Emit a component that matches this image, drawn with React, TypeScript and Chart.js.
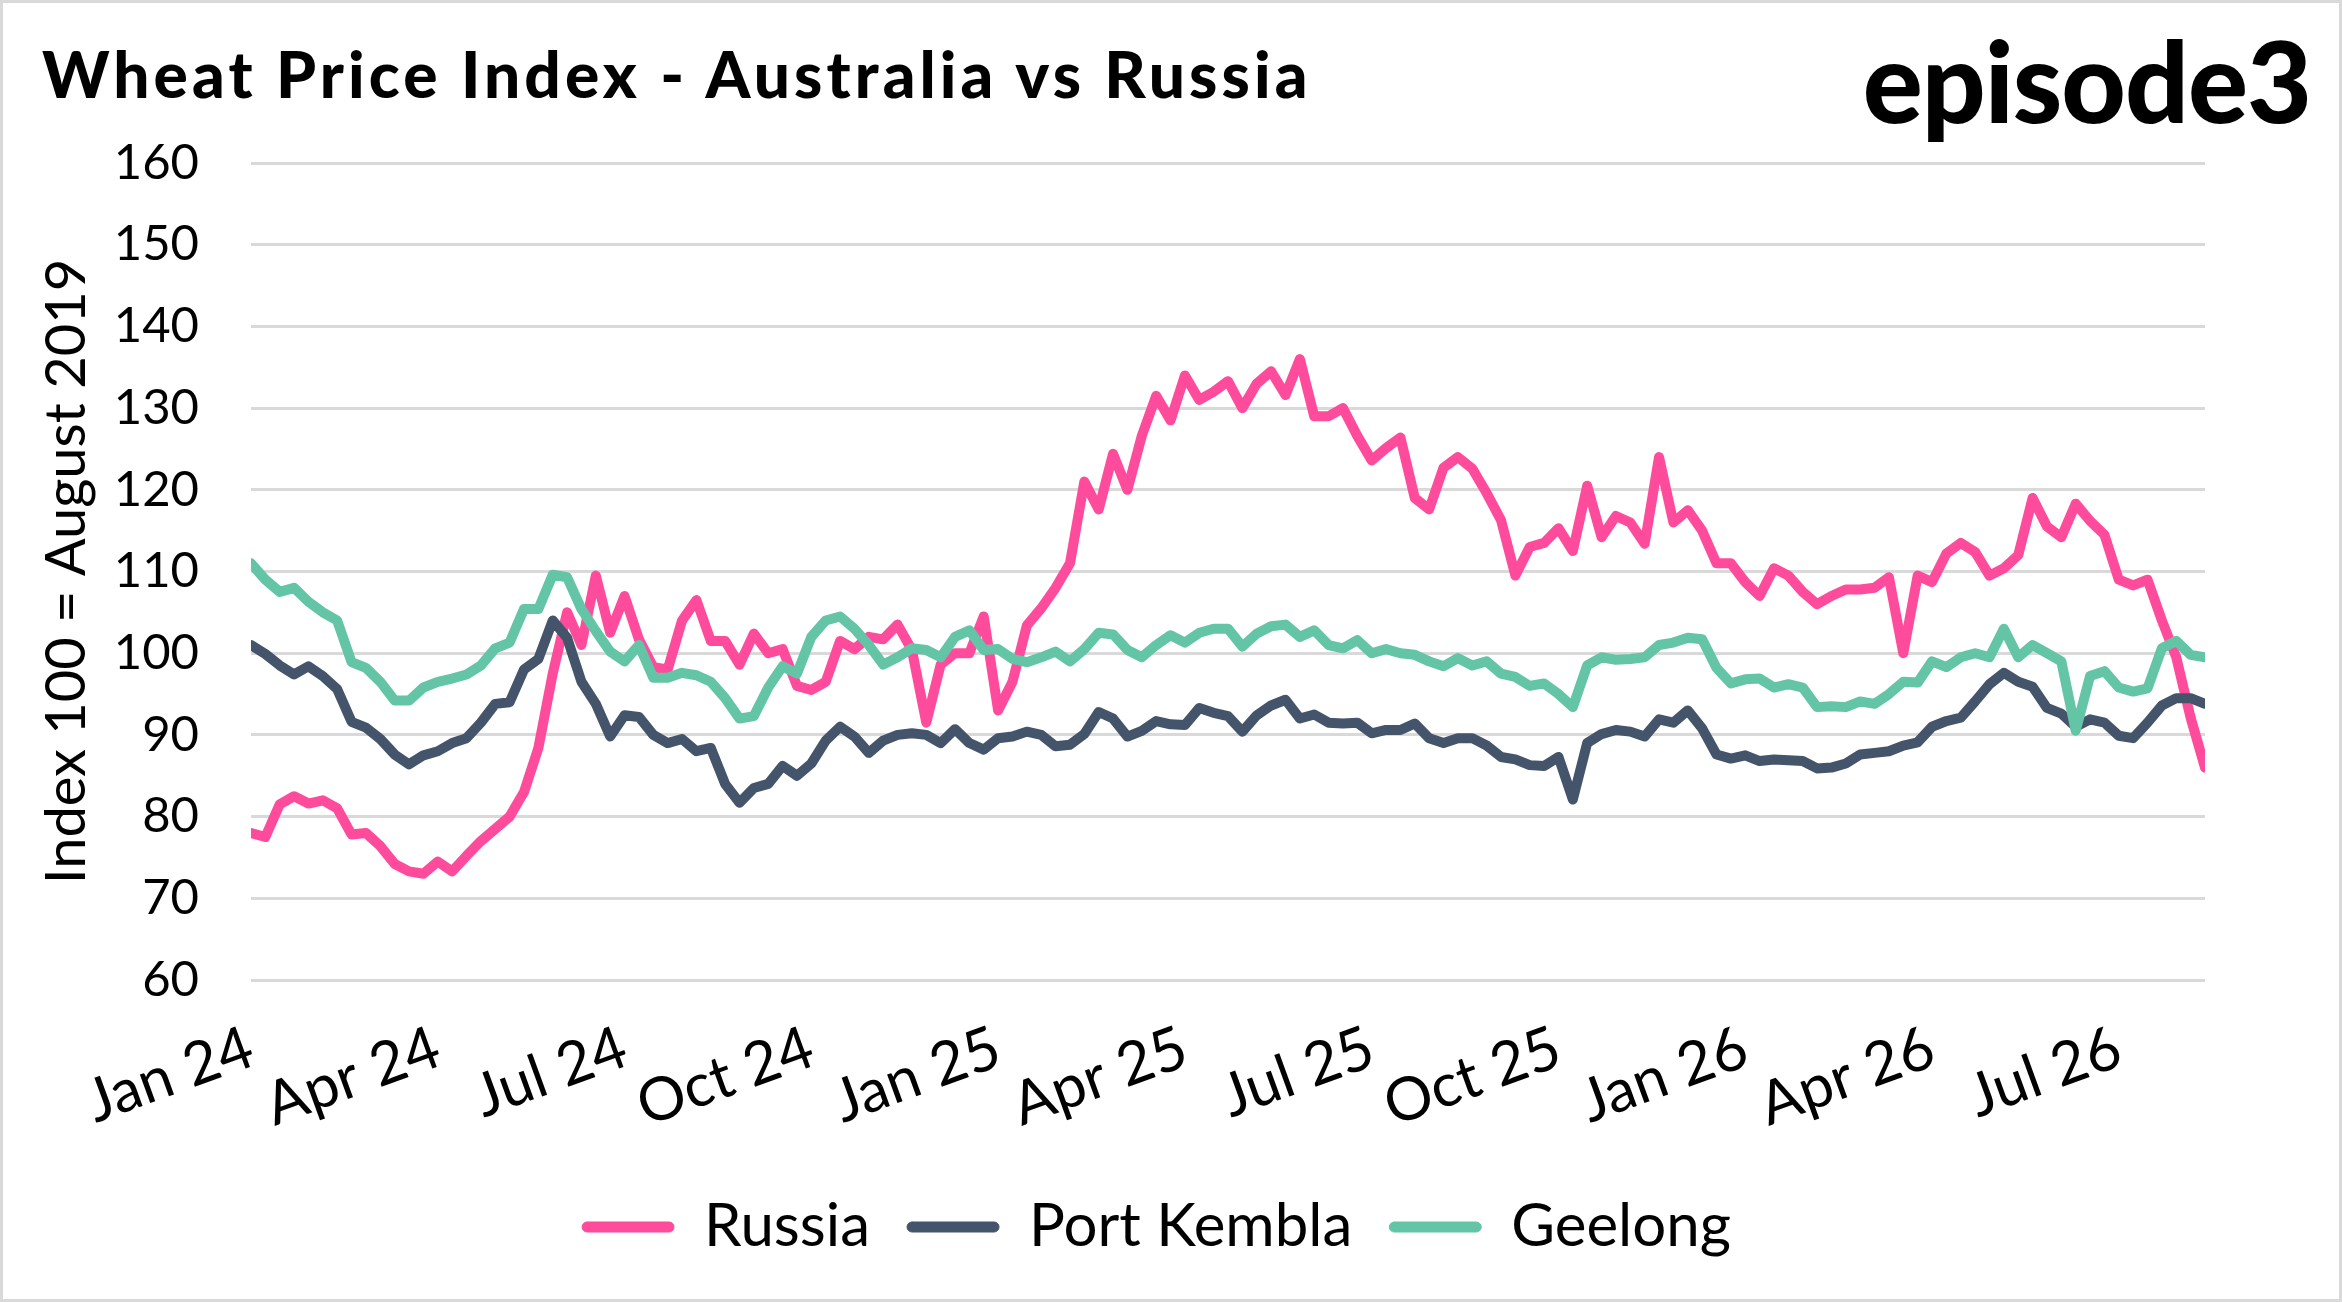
import React, { useEffect, useRef } from "react";
import { Chart, registerables } from "chart.js";

Chart.register(...registerables);

// ---------- data (weekly readings, week 0 = early Jan 2024) ----------
const seriesNames = ["Russia", "Port Kembla", "Geelong"];
const seriesColors = ["#FF4B9B", "#44546A", "#63C5A5"];

const xTickWeeks = [0, 13, 26, 39, 52, 65, 78, 91, 104, 117, 130];
const xTickLabels = ["Jan 24", "Apr 24", "Jul 24", "Oct 24", "Jan 25", "Apr 25", "Jul 25", "Oct 25", "Jan 26", "Apr 26", "Jul 26"];
const weekMin = 0;
const weekMax = 136;

const yMin = 60;
const yMax = 160;
const yStep = 10;

const russia = [
  78, 77.5, 81.5, 82.5, 81.6, 82.0, 81, 77.8, 78, 76.4,
  74.2, 73.3, 73, 74.5, 73.3, 75.2, 77, 78.5, 80, 83,
  88.4, 97.5, 105, 101, 109.5, 102.5, 107, 101.7, 98.3, 98,
  104, 106.5, 101.5, 101.5, 98.6, 102.4, 100, 100.5, 96, 95.5,
  96.5, 101.5, 100.5, 102, 101.7, 103.5, 100.4, 91.5, 98.6, 100,
  100, 104.5, 93, 96.5, 103.4, 105.5, 108, 111, 121, 117.6,
  124.4, 120, 126.6, 131.5, 128.5, 134, 131, 132, 133.3, 130,
  133, 134.5, 131.6, 136, 129, 129, 130, 126.6, 123.6, 125.1,
  126.4, 119, 117.6, 122.7, 124, 122.6, 119.6, 116.3, 109.5, 113,
  113.5, 115.3, 112.5, 120.5, 114.2, 116.8, 116, 113.4, 124, 116,
  117.5, 115, 111, 111, 108.7, 107, 110.4, 109.5, 107.5, 106,
  107, 107.8, 107.8, 108, 109.3, 100, 109.5, 108.7, 112.2, 113.5,
  112.4, 109.5, 110.4, 112, 119, 115.5, 114.2, 118.3, 116.2, 114.5,
  109, 108.3, 109, 104, 99.5, 92.1, 86,
];

const portKembla = [
  101, 99.9, 98.5, 97.4, 98.4, 97.2, 95.6, 91.6, 90.9, 89.5,
  87.6, 86.4, 87.5, 88.0, 89.0, 89.6, 91.5, 93.8, 94.0, 98,
  99.3, 104, 101.9, 96.5, 93.8, 89.8, 92.4, 92.2, 90, 89,
  89.5, 88, 88.4, 84, 81.7, 83.5, 84, 86.2, 85, 86.5,
  89.3, 91.0, 89.8, 87.8, 89.3, 90, 90.2, 90, 89, 90.7,
  89, 88.2, 89.6, 89.8, 90.4, 90, 88.6, 88.8, 90.1, 92.8,
  92, 89.8, 90.5, 91.7, 91.3, 91.2, 93.3, 92.7, 92.3, 90.4,
  92.4, 93.6, 94.3, 92, 92.5, 91.5, 91.4, 91.5, 90.2, 90.6,
  90.6, 91.4, 89.6, 89, 89.6, 89.6, 88.7, 87.3, 87, 86.3,
  86.2, 87.3, 82.1, 89, 90.1, 90.6, 90.4, 89.8, 91.9, 91.5,
  93, 90.8, 87.6, 87.1, 87.5, 86.8, 87, 86.9, 86.8, 85.9,
  86, 86.5, 87.6, 87.8, 88, 88.7, 89.1, 91, 91.7, 92.1,
  94.1, 96.2, 97.6, 96.5, 95.9, 93.3, 92.6, 91.0, 91.9, 91.5,
  89.9, 89.6, 91.5, 93.6, 94.5, 94.5, 93.8,
];

const geelong = [
  111, 109, 107.5, 108, 106.3, 105, 104, 98.9, 98.2, 96.5,
  94.2, 94.2, 95.8, 96.5, 96.9, 97.4, 98.5, 100.6, 101.3, 105.4,
  105.4, 109.6, 109.3, 105.4, 102.7, 100.2, 99, 101, 97, 97,
  97.6, 97.3, 96.5, 94.5, 92, 92.3, 95.8, 98.4, 97.5, 102,
  104, 104.5, 103, 101, 98.6, 99.5, 100.6, 100.4, 99.5, 102,
  102.8, 100.4, 100.5, 99.3, 98.9, 99.5, 100.2, 99, 100.5, 102.5,
  102.3, 100.4, 99.5, 101, 102.2, 101.3, 102.5, 103, 103, 100.8,
  102.4, 103.3, 103.5, 102, 102.8, 101, 100.6, 101.6, 100, 100.5,
  100, 99.8, 99, 98.4, 99.4, 98.5, 99, 97.5, 97.1, 96,
  96.3, 95, 93.4, 98.5, 99.5, 99.2, 99.3, 99.5, 101, 101.3,
  101.9, 101.7, 98.2, 96.3, 96.8, 96.9, 95.8, 96.2, 95.8, 93.4,
  93.5, 93.4, 94.1, 93.8, 95, 96.5, 96.4, 99, 98.3, 99.5,
  100, 99.5, 103, 99.5, 101, 100, 99, 90.5, 97.2, 97.8,
  95.8, 95.3, 95.7, 100.6, 101.5, 99.8, 99.5,
];

const seriesValues = [russia, portKembla, geelong];

const titleText = "Wheat Price Index - Australia vs Russia";
const logoText = "episode3";
const yAxisTitle = "Index 100 = August 2019";

const W = 2342;
const H = 1302;

export default function App() {
  const ref = useRef<HTMLCanvasElement>(null);

  useEffect(() => {
    const canvas = ref.current;
    if (!canvas) return;
    const chart = new Chart(canvas, {
      type: "line",
      data: {
        datasets: seriesNames.map((name, k) => ({
          label: name,
          data: seriesValues[k].map((v, i) => ({ x: i, y: v })),
          borderColor: seriesColors[k],
          backgroundColor: seriesColors[k],
          borderWidth: 10,
          pointRadius: 0,
          pointHoverRadius: 0,
          borderJoinStyle: "round",
          borderCapStyle: "round",
          tension: 0,
          order: 3 - k,
        })),
      },
      options: {
        responsive: false,
        animation: false,
        devicePixelRatio: 1,
        layout: { padding: { top: 163, right: 137, bottom: 35, left: 108 } },
        plugins: {
          legend: {
            position: "bottom",
            labels: {
              sort: (a: any, b: any) => a.datasetIndex - b.datasetIndex,
              boxWidth: 92,
              boxHeight: 10,
              useBorderRadius: true,
              borderRadius: 5,
              padding: 37,
              color: "#000",
              font: { family: "Lato", size: 60 },
              generateLabels: (chart: any) => {
                const items = (Chart.defaults.plugins.legend.labels as any).generateLabels(chart);
                return items.map((it: any) => ({ ...it, lineWidth: 1, strokeStyle: it.fillStyle }));
              },
            },
          },
          tooltip: { enabled: false },
        },
        scales: {
          x: {
            type: "linear",
            min: weekMin,
            max: weekMax,
            grid: { display: false },
            border: { display: false },
            afterBuildTicks: (s: any) => {
              s.ticks = xTickWeeks.map((v) => ({ value: v }));
            },
            afterFit: (s: any) => {
              s.height = 180;
            },
            ticks: {
              autoSkip: false,
              minRotation: 20,
              maxRotation: 20,
              padding: 24,
              color: "#000",
              font: { family: "Lato", size: 60 },
              callback: (_v: any, i: number) => xTickLabels[i],
            },
          },
          y: {
            min: yMin,
            max: yMax,
            ticks: {
              stepSize: yStep,
              padding: 52,
              color: "#000",
              font: { family: "Lato", size: 49 },
            },
            grid: { color: "#d9d9d9", lineWidth: 3, drawTicks: false },
            border: { display: false },
            title: {
              display: true,
              text: yAxisTitle,
              color: "#000",
              font: { family: "Lato", size: 56 },
              padding: { top: -75, bottom: 0 },
            },
            afterFit: (s: any) => {
              s.width = 143;
            },
          },
        },
      } as any,
    });
    return () => chart.destroy();
  }, []);

  return (
    <div style={{ position: "absolute", left: 0, top: 0, width: W, height: H, background: "#fff", overflow: "hidden" }}>
      <canvas ref={ref} width={W} height={H} style={{ position: "absolute", left: 0, top: 0, width: W, height: H }} />
      <div
        style={{
          position: "absolute",
          left: 42,
          top: 42,
          fontFamily: "Lato",
          fontWeight: 900,
          fontSize: 64,
          lineHeight: "64px",
          letterSpacing: 4.1,
          color: "#000",
          whiteSpace: "nowrap",
        }}
      >
        {titleText}
      </div>
      <div
        style={{
          position: "absolute",
          right: 31,
          top: 24,
          fontFamily: "Lato",
          fontWeight: 900,
          fontSize: 112,
          lineHeight: "112px",
          letterSpacing: -1,
          color: "#000",
          whiteSpace: "nowrap",
        }}
      >
        {logoText}
      </div>
      <div
        style={{
          position: "absolute",
          left: 0,
          top: 0,
          right: 0,
          bottom: 0,
          border: "3px solid #d9d9d9",
          pointerEvents: "none",
        }}
      />
    </div>
  );
}
